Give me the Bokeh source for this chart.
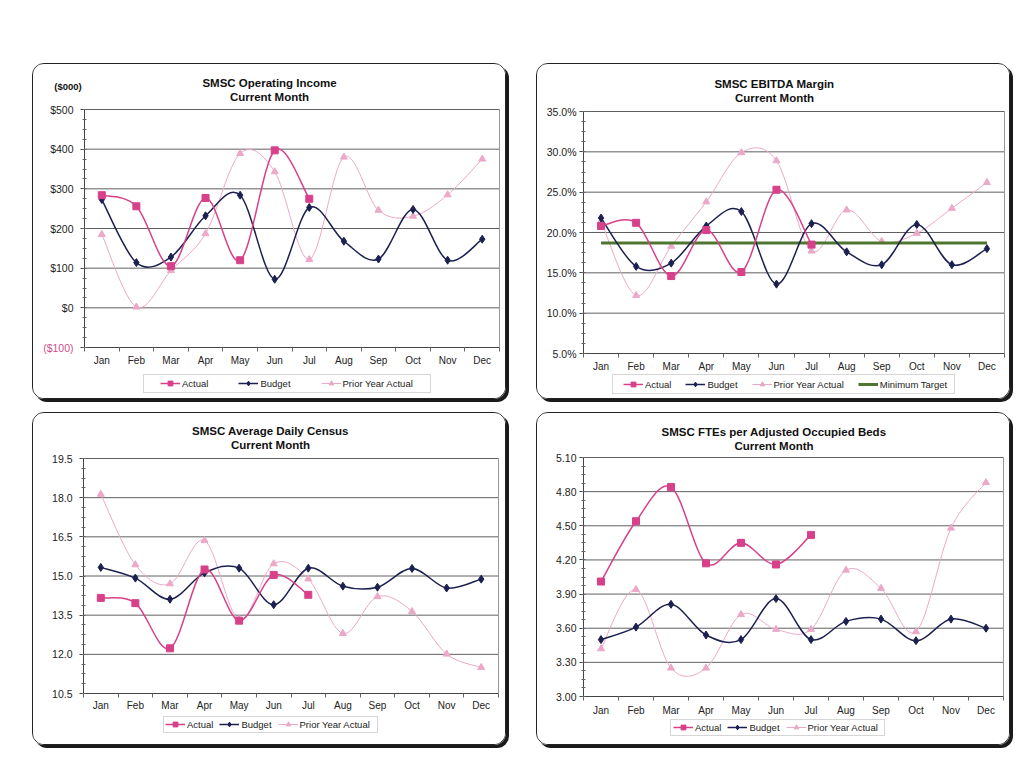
import numpy as np
from bokeh.plotting import figure
from bokeh.models import (Range1d, FixedTicker, PrintfTickFormatter, Label, Legend,
                          LegendItem, ColumnDataSource, Spacer, LinearAxis, BoxAnnotation)
from bokeh.layouts import column, row
from bokeh.embed import file_html
from bokeh.resources import INLINE

months = ["Jan", "Feb", "Mar", "Apr", "May", "Jun", "Jul", "Aug", "Sep", "Oct", "Nov", "Dec"]

# SMSC Operating Income ($000)
oi_actual = [284, 256, 105, 277, 120, 397, 275]
oi_budget = [273, 114, 128, 232, 284, 72, 253, 168, 123, 248, 120, 173]
oi_prior = [185, 2, 94, 187, 389, 343, 122, 380, 246, 231, 285, 375]
oi_ticks = [-100, 0, 100, 200, 300, 400, 500]

# SMSC EBITDA Margin (%)
eb_actual = [20.8, 21.2, 14.6, 20.3, 15.1, 25.3, 18.5]
eb_budget = [21.8, 15.8, 16.2, 20.8, 22.6, 13.6, 21.1, 17.6, 16.0, 21.0, 16.0, 18.0]
eb_prior = [21.4, 12.2, 18.3, 23.8, 29.9, 28.9, 17.7, 22.8, 18.9, 19.9, 23.0, 26.2]
eb_target = [18.7] * 12
eb_ticks = [5, 10, 15, 20, 25, 30, 35]

# SMSC Average Daily Census
adc_actual = [14.16, 13.96, 12.23, 15.25, 13.29, 15.04, 14.28]
adc_budget = [15.33, 14.92, 14.11, 15.12, 15.30, 13.90, 15.30, 14.61, 14.57, 15.29, 14.54, 14.88]
adc_prior = [18.13, 15.43, 14.70, 16.36, 13.33, 15.47, 14.89, 12.80, 14.21, 13.64, 12.01, 11.50]
adc_ticks = [10.5, 12.0, 13.5, 15.0, 16.5, 18.0, 19.5]

# SMSC FTEs per Adjusted Occupied Beds
fte_actual = [4.01, 4.54, 4.84, 4.17, 4.35, 4.16, 4.42]
fte_budget = [3.50, 3.61, 3.81, 3.54, 3.50, 3.86, 3.50, 3.66, 3.68, 3.49, 3.68, 3.60]
fte_prior = [3.42, 3.94, 3.25, 3.25, 3.72, 3.59, 3.59, 4.11, 3.95, 3.57, 4.48, 4.88]
fte_ticks = [3.0, 3.3, 3.6, 3.9, 4.2, 4.5, 4.8, 5.1]

FONT = "Liberation Sans"
C_ACT = "#d8408a"
C_BUD = "#1c2050"
C_PRI = "#eba8c8"
C_TGT = "#4f7631"
C_NEG = "#d0508a"
W = 474


def smooth(p, vals, color, width):
    y = np.asarray(vals, float)
    x = np.arange(len(y)) + 0.5
    n = len(y)
    xp = np.concatenate([[x[0]], x, [x[-1]]])
    yp = np.concatenate([[y[0]], y, [y[-1]]])
    src = ColumnDataSource(dict(
        x0=x[:-1], y0=y[:-1], x1=x[1:], y1=y[1:],
        cx0=x[:-1] + (xp[2:n + 1] - xp[0:n - 1]) / 6.0,
        cy0=y[:-1] + (yp[2:n + 1] - yp[0:n - 1]) / 6.0,
        cx1=x[1:] - (xp[3:n + 2] - xp[1:n]) / 6.0,
        cy1=y[1:] - (yp[3:n + 2] - yp[1:n]) / 6.0,
    ))
    p.bezier(x0="x0", y0="y0", x1="x1", y1="y1", cx0="cx0", cy0="cy0",
             cx1="cx1", cy1="cy1", source=src, line_color=color, line_width=width)


def series(p, vals, color, width, marker, size):
    smooth(p, vals, color, width)
    x = np.arange(len(vals)) + 0.5
    s = p.scatter(x, vals, marker=marker, size=size, fill_color=color, line_color=color)
    # legend-only stroke (a single NaN point draws nothing on the plot)
    ln = p.line(x=[np.nan], y=[np.nan], line_color=color, line_width=width)
    return [ln, s]


def make_fig(H, bl, br, bt, bb, yticks, fmt, ystand, xstand):
    """bl/br/bt/bb: pixel distance from the panel edge to the plot area."""
    ymin, ymax = yticks[0], yticks[-1]
    sx = (W - bl - br) / 12.0
    sy = (H - bt - bb) / float(ymax - ymin)
    xr = Range1d(-bl / sx, 12 + br / sx)
    yr = Range1d(ymin - bb / sy, ymax + bt / sy)
    p = figure(width=W, height=H, x_range=xr, y_range=yr,
               output_backend="svg", toolbar_location=None,
               min_border=0, x_axis_type=None, y_axis_type=None)
    p.styles = {"border": "1px solid #222", "border-radius": "12px",
                "box-shadow": "3px 3px 0 0 #1a1a1a", "overflow": "hidden"}
    p.outline_line_color = None
    p.background_fill_color = "white"
    p.border_fill_color = "white"
    p.xgrid.visible = False
    p.ygrid.visible = False
    # horizontal gridlines across the plot area
    p.segment(x0=0, x1=12, y0=yticks, y1=yticks, line_color="#606060", line_width=1)

    step = yticks[1] - yticks[0]
    minors = list(np.arange(ymin, ymax + 1e-9, step / 4.0))
    ya = LinearAxis(fixed_location=0, bounds=(ymin, ymax),
                    ticker=FixedTicker(ticks=yticks, minor_ticks=minors), formatter=fmt,
                    major_tick_out=4, major_tick_in=0, minor_tick_out=2, minor_tick_in=2,
                    major_label_standoff=ystand)
    xa = LinearAxis(fixed_location=ymin, bounds=(0, 12),
                    ticker=FixedTicker(ticks=[i + 0.5 for i in range(12)],
                                       minor_ticks=list(range(13))),
                    major_label_overrides={i + 0.5: m for i, m in enumerate(months)},
                    major_tick_out=0, major_tick_in=0, minor_tick_out=4, minor_tick_in=0,
                    major_label_standoff=xstand)
    ra = LinearAxis(fixed_location=12, bounds=(ymin, ymax), ticker=FixedTicker(ticks=[]),
                    major_tick_out=0, major_tick_in=0, minor_tick_out=0, minor_tick_in=0,
                    axis_line_color="#999999")
    for ax in (xa, ya):
        ax.axis_line_color = "#444444"
        ax.major_tick_line_color = "#444444"
        ax.minor_tick_line_color = "#666666"
        ax.major_label_text_font = FONT
        ax.major_label_text_color = "#222222"
    ya.major_label_text_font_size = "10.5px"
    xa.major_label_text_font_size = "10px"
    p.add_layout(ya, "left")
    p.add_layout(xa, "below")
    p.add_layout(ra, "right")
    return p, ya


def titles(p, cx, y1, y2, line1, line2):
    for y, t in ((y1, line1), (y2, line2)):
        p.add_layout(Label(x=cx, y=y, x_units="screen", y_units="screen", text=t,
                           text_align="center", text_baseline="middle",
                           text_font=FONT, text_font_size="11.5px",
                           text_font_style="bold", text_color="#111111"))


def legend(p, items, box, x, y, spacing):
    bx0, bx1, by0, by1 = box
    p.add_layout(BoxAnnotation(left=bx0, right=bx1, bottom=by0, top=by1,
                               left_units="screen", right_units="screen",
                               bottom_units="screen", top_units="screen",
                               fill_color="white", fill_alpha=1,
                               line_color="#777777", line_width=1))
    lg = Legend(items=[LegendItem(label=l, renderers=r) for l, r in items],
                location=(x, y), orientation="horizontal",
                label_text_font=FONT, label_text_font_size="9.5px",
                label_text_color="#222222",
                glyph_width=20, glyph_height=12, label_standoff=2,
                label_height=10, spacing=spacing, padding=0, margin=0,
                border_line_color=None, background_fill_alpha=0)
    p.add_layout(lg)


# ---------- Panel 1: Operating Income ----------
p1, ya1 = make_fig(336, 51, 8, 45, 53, oi_ticks, PrintfTickFormatter(format="$%d"), 7, 3)
ya1.major_label_overrides = {-100: " "}
r_pri = series(p1, oi_prior, C_PRI, 1, "triangle", 7)
r_bud = series(p1, oi_budget, C_BUD, 1.5, "diamond", 8)
r_act = series(p1, oi_actual, C_ACT, 1.5, "square", 7)
p1.add_layout(Label(x=40, y=-100, x_units="screen", y_units="data", text="($100)",
                    text_align="right", text_baseline="middle", text_font=FONT,
                    text_font_size="10.5px", text_color=C_NEG))
p1.add_layout(Label(x=34.5, y=314, x_units="screen", y_units="screen", text="($000)",
                    text_align="center", text_baseline="middle", text_font=FONT,
                    text_font_size="9.5px", text_font_style="bold", text_color="#111111"))
titles(p1, 236, 318, 304, "SMSC Operating Income", "Current Month")
legend(p1, [("Actual", r_act), ("Budget", r_bud), ("Prior Year Actual", r_pri)],
       (110, 397, 8, 26), 127, 11, 30)

# ---------- Panel 2: EBITDA Margin ----------
p2, _ = make_fig(336, 46, 7, 47, 47, eb_ticks, PrintfTickFormatter(format="%.1f%%"), 3, 3)
r_pri2 = series(p2, eb_prior, C_PRI, 1, "triangle", 7)
xs = np.arange(12) + 0.5
r_tgt = p2.line(xs, eb_target, line_color=C_TGT, line_width=3)
r_bud2 = series(p2, eb_budget, C_BUD, 1.5, "diamond", 8)
r_act2 = series(p2, eb_actual, C_ACT, 1.5, "square", 7)
titles(p2, 237, 317, 303, "SMSC EBITDA Margin", "Current Month")
legend(p2, [("Actual", r_act2), ("Budget", r_bud2), ("Prior Year Actual", r_pri2),
            ("Minimum Target", [r_tgt])], (75, 417, 7, 26), 86, 10, 14)

# ---------- Panel 3: Average Daily Census ----------
p3, _ = make_fig(333, 50, 9, 45, 53, adc_ticks, PrintfTickFormatter(format="%.1f"), 7, 2)
r_pri3 = series(p3, adc_prior, C_PRI, 1, "triangle", 7)
r_bud3 = series(p3, adc_budget, C_BUD, 1.5, "diamond", 8)
r_act3 = series(p3, adc_actual, C_ACT, 1.5, "square", 7)
titles(p3, 237, 316, 302, "SMSC Average Daily Census", "Current Month")
legend(p3, [("Actual", r_act3), ("Budget", r_bud3), ("Prior Year Actual", r_pri3)],
       (130, 344, 14, 30), 132, 16, 6)

# ---------- Panel 4: FTEs per Adjusted Occupied Beds ----------
p4, _ = make_fig(333, 46, 8, 44, 50, fte_ticks, PrintfTickFormatter(format="%.2f"), 3, 4)
r_pri4 = series(p4, fte_prior, C_PRI, 1, "triangle", 7)
r_bud4 = series(p4, fte_budget, C_BUD, 1.5, "diamond", 8)
r_act4 = series(p4, fte_actual, C_ACT, 1.5, "square", 7)
titles(p4, 236.5, 315, 301, "SMSC FTEs per Adjusted Occupied Beds", "Current Month")
legend(p4, [("Actual", r_act4), ("Budget", r_bud4), ("Prior Year Actual", r_pri4)],
       (133, 347, 11, 27), 136, 13, 6)

layout = column(
    Spacer(height=63),
    row(Spacer(width=32), p1, Spacer(width=30), p2),
    Spacer(height=13),
    row(Spacer(width=32), p3, Spacer(width=30), p4),
)

open("out.html", "w").write(file_html(layout, INLINE))
